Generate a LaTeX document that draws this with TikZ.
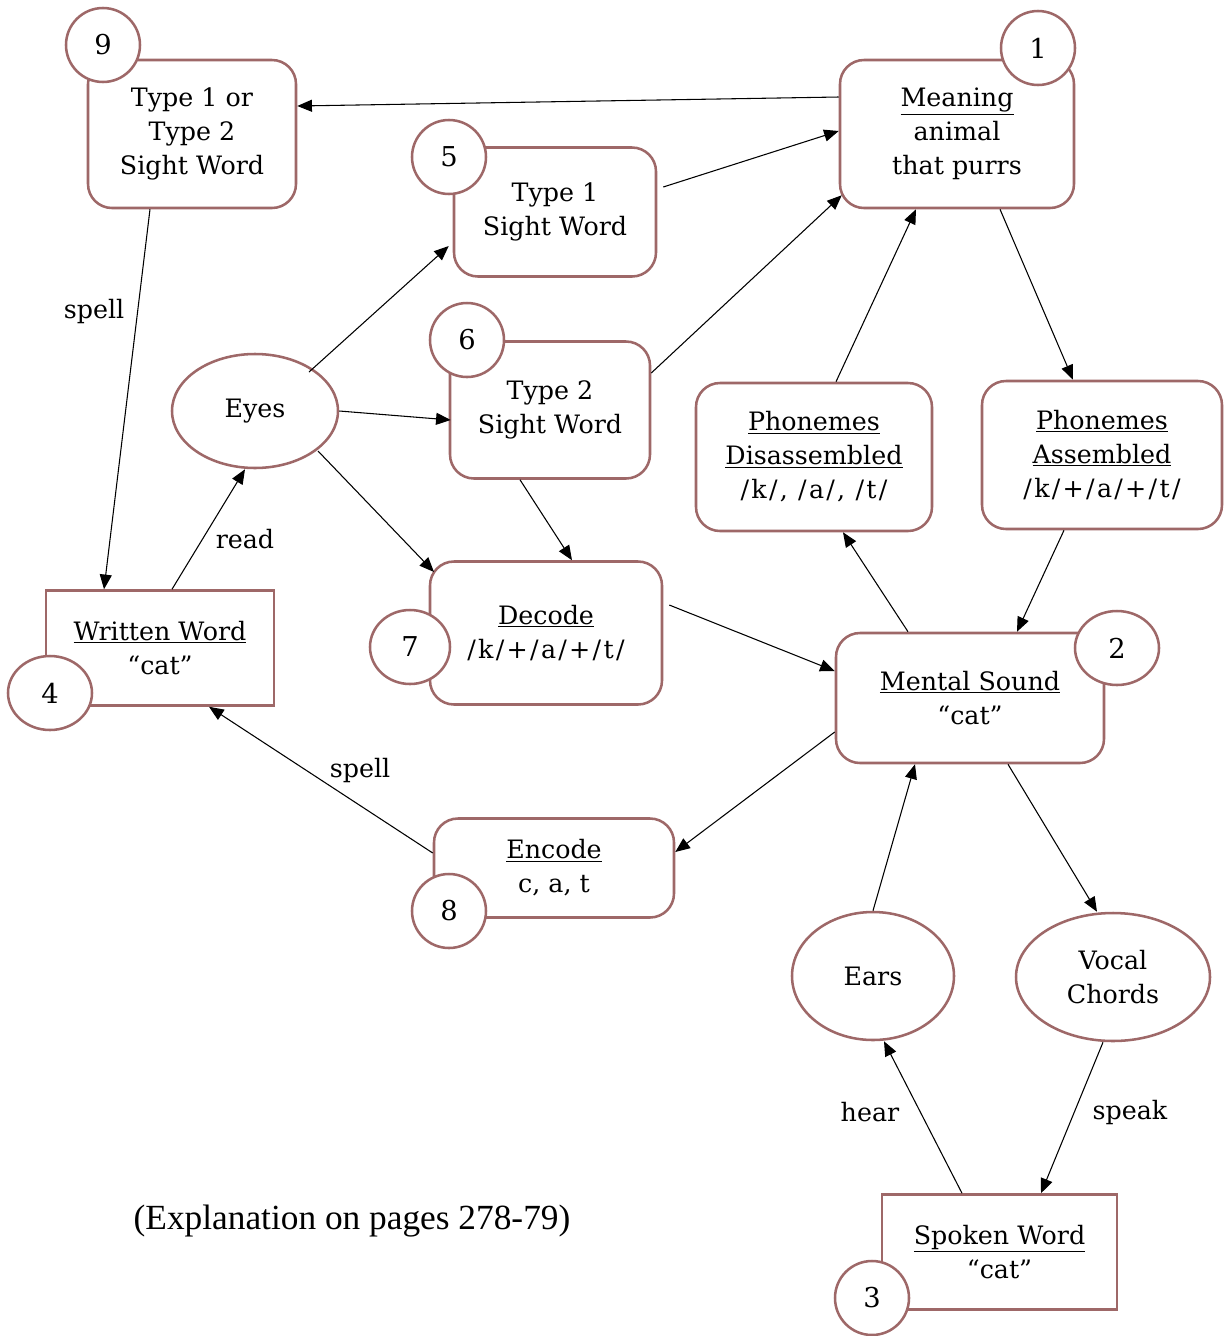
\documentclass[tikz,border=0pt]{standalone}
\usepackage{fontspec}
\setmainfont{DejaVu Serif}
\newfontfamily\expfont{Liberation Serif}
\usetikzlibrary{arrows.meta,calc,shapes.geometric}
\definecolor{bord}{RGB}{158,104,104}
\newcommand\mainsz{\fontsize{19}{25.5}\selectfont}
\newcommand\phon[1]{{\addfontfeatures{LetterSpace=9}#1}}
\newcommand\ul[1]{\underline{#1}}
\begin{document}
\begin{tikzpicture}[x=0.75pt,y=-0.75pt,
  box/.style={draw=bord, line width=1.9pt, rounded corners=18pt, fill=white, align=center, inner sep=0pt, font=\mainsz},
  sbox/.style={box, rounded corners=0pt},
  oval/.style={draw=bord, line width=1.9pt, ellipse, fill=white, align=center, inner sep=0pt, font=\mainsz},
  num/.style={oval, minimum width=55.5pt, minimum height=55.5pt, font=\fontsize{20.5}{24}\selectfont},
  arr/.style={-{Triangle[length=11pt,width=9pt]}, line width=0.8pt},
  lbl/.style={font=\mainsz, inner sep=0pt}]
\useasboundingbox (0,0) rectangle (1227,1336);

% boxes
\node[box, minimum width=156pt, minimum height=111pt] (t12) at (192,134) {Type 1 or\\Type 2\\Sight Word};
\node[box, minimum width=175.5pt, minimum height=111pt] (meaning) at (957,134) {\ul{Meaning}\\animal\\that purrs};
\node[box, minimum width=151.5pt, minimum height=96.75pt] (t1) at (555,212) {Type 1\\Sight Word};
\node[box, minimum width=150pt, minimum height=102.75pt] (t2) at (550,410) {Type 2\\Sight Word};
\node[box, minimum width=177pt, minimum height=111pt] (pdis) at (814,457) {\ul{Phonemes}\\\ul{Disassembled}\\\phon{/k/, /a/, /t/}};
\node[box, minimum width=180pt, minimum height=111pt] (pass) at (1102,455) {\ul{Phonemes}\\\ul{Assembled}\\\phon{/k/+/a/+/t/}};
\node[sbox, minimum width=171pt, minimum height=86.25pt] (written) at (160,648) {\ul{Written Word}\\“cat”};
\node[box, minimum width=174pt, minimum height=107.25pt] (decode) at (546,633) {\ul{Decode}\\\phon{/k/+/a/+/t/}};
\node[box, minimum width=201pt, minimum height=97.5pt] (mental) at (970,698) {\ul{Mental Sound}\\“cat”};
\node[box, minimum width=180pt, minimum height=74.25pt] (encode) at (554,868) {\ul{Encode}\\c, a, t};
\node[sbox, minimum width=176.25pt, minimum height=86.25pt] (spoken) at (999.5,1252) {\ul{Spoken Word}\\“cat”};

% ellipses
\node[oval, minimum width=124.5pt, minimum height=85.5pt] (eyes) at (255,411) {Eyes};
\node[oval, minimum width=121.5pt, minimum height=96pt] (ears) at (873,976) {Ears};
\node[oval, minimum width=145.5pt, minimum height=96pt] (vocal) at (1113,977) {Vocal\\Chords};

% numbers
\node[num] (n9) at (103,45) {9};
\node[num] (n1) at (1038,48) {1};
\node[num] (n5) at (449,157) {5};
\node[num] (n6) at (467,340) {6};
\node[num, minimum width=63pt] (n4) at (50,693) {4};
\node[num, minimum width=60pt] (n7) at (410,647) {7};
\node[num, minimum width=63pt] (n2) at (1117,648) {2};
\node[num] (n8) at (449,911) {8};
\node[num] (n3) at (872,1298) {3};

% connectors
\draw[arr] ($(meaning.west)+(0,-37)$) -- ($(t12.east)+(0,-28)$);
\draw[arr] ($(t1.east)+(6,-25)$) -- ($(meaning.west)+(0,-3)$);
\draw[arr] ($(t2.east)+(0,-37)$) -- ($(meaning.south west)+(3,-14)$);
\draw[arr] ($(pdis.north)+(22,0)$) -- ($(meaning.south)+(-41,0)$);
\draw[arr] ($(meaning.south)+(43,0)$) -- ($(pass.north)+(-29,0)$);
\draw[arr] ($(pass.south)+(-38,0)$) -- ($(mental.north)+(47,0)$);
\draw[arr] ($(mental.north)+(-62,0)$) -- ($(pdis.south)+(29,0)$);
\draw[arr] ($(decode.east)+(6,-28)$) -- ($(mental.west)+(0,-27)$);
\draw[arr] ($(mental.west)+(0,34)$) -- ($(encode.east)+(0,-16)$);
\draw[arr] ($(encode.west)+(0,-15)$) -- ($(written.south)+(49,0)$);
\draw[arr] ($(t12.south)+(-42,0)$) -- ($(written.north)+(-56,0)$);
\draw[arr] ($(written.north)+(12,0)$) -- ($(eyes.south)+(-10,0)$);
\draw[arr] ($(eyes.center)+(54,-39)$) -- ($(t1.west)+(-4,34)$);
\draw[arr] (eyes.east) -- ($(t2.west)+(2,10)$);
\draw[arr] ($(eyes.center)+(63,40)$) -- ($(decode.center)+(-112,-61)$);
\draw[arr] ($(t2.south)+(-30,0)$) -- ($(decode.north)+(26,0)$);
\draw[arr] ($(mental.south)+(38,0)$) -- ($(vocal.north)+(-16,0)$);
\draw[arr] ($(vocal.south)+(-10,0)$) -- ($(spoken.north)+(41.5,0)$);
\draw[arr] ($(spoken.north)+(-37.5,0)$) -- ($(ears.south)+(11,0)$);
\draw[arr] (ears.north) -- ($(mental.south)+(-55,0)$);

% labels
\node[lbl] (lspell1) at (94,312) {spell};
\node[lbl] (lspell2) at (360,770) {spell};
\node[lbl] (lread) at (245,539) {read};
\node[lbl] (lhear) at (870,1112) {hear};
\node[lbl] (lspeak) at (1130,1112) {speak};

\node[inner sep=0pt, font=\expfont\fontsize{26.5}{30}\selectfont] (expl) at (352,1221) {(Explanation on pages 278-79)};
\end{tikzpicture}
\end{document}
